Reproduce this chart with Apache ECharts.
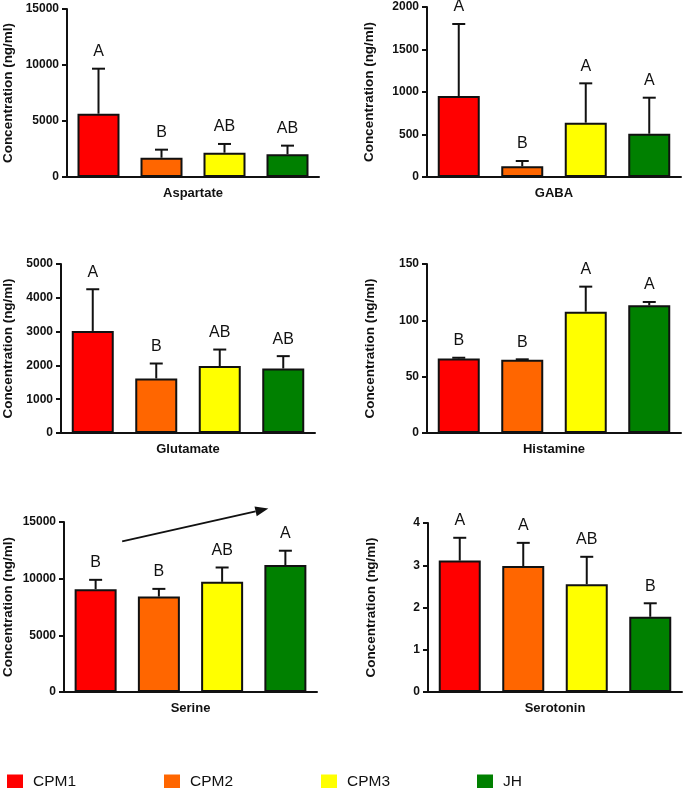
<!DOCTYPE html>
<html>
<head>
<meta charset="utf-8">
<script src="https://cdn.jsdelivr.net/npm/echarts@6/dist/echarts.min.js"></script>
<style>html,body{margin:0;padding:0;background:#fff}#c{width:685px;height:788px}</style>
</head>
<body>
<div id="c"></div>
<script>
// ---- data ----
const groups = ['CPM1', 'CPM2', 'CPM3', 'JH'];
const groupColors = ['#FF0000', '#FF6600', '#FFFF00', '#008000'];

const aspartateMean = [5650, 1720, 2170, 2030];
const aspartateSd = [4020, 720, 780, 770];
const aspartateLetters = ['A', 'B', 'AB', 'AB'];

const gabaMean = [953, 126, 639, 509];
const gabaSd = [847, 62, 463, 424];
const gabaLetters = ['A', 'B', 'A', 'A'];

const glutamateMean = [3020, 1613, 1979, 1908];
const glutamateSd = [1233, 443, 490, 366];
const glutamateLetters = ['A', 'B', 'AB', 'AB'];

const histamineMean = [66.2, 65.1, 107.7, 113.3];
const histamineSd = [0.6, 0.3, 22.2, 3.0];
const histamineLetters = ['B', 'B', 'A', 'A'];

const serineMean = [9072, 8417, 9719, 11199];
const serineSd = [825, 682, 1267, 1267];
const serineLetters = ['B', 'B', 'AB', 'A'];
const serineArrow = [[0.42, 13290], [2.73, 16190]];

const serotoninMean = [3.11, 2.98, 2.55, 1.78];
const serotoninSd = [0.54, 0.55, 0.65, 0.32];
const serotoninLetters = ['A', 'A', 'AB', 'B'];

const yAxisTitle = 'Concentration (ng/ml)';

const panels = [
  {name: 'Aspartate', mean: aspartateMean, sd: aspartateSd, letters: aspartateLetters, max: 15000, interval: 5000},
  {name: 'GABA', mean: gabaMean, sd: gabaSd, letters: gabaLetters, max: 2000, interval: 500},
  {name: 'Glutamate', mean: glutamateMean, sd: glutamateSd, letters: glutamateLetters, max: 5000, interval: 1000},
  {name: 'Histamine', mean: histamineMean, sd: histamineSd, letters: histamineLetters, max: 150, interval: 50},
  {name: 'Serine', mean: serineMean, sd: serineSd, letters: serineLetters, max: 15000, interval: 5000},
  {name: 'Serotonin', mean: serotoninMean, sd: serotoninSd, letters: serotoninLetters, max: 4, interval: 1}
];

// ---- layout ----
const gridBoxes = [
  {left: 66, top: 9, width: 253, height: 168},
  {left: 427, top: 7, width: 254, height: 170},
  {left: 60, top: 264, width: 255, height: 169},
  {left: 427, top: 264, width: 254, height: 169},
  {left: 63, top: 522, width: 254, height: 170},
  {left: 428, top: 523, width: 254, height: 169}
];
const yNameGaps = [52, 51, 46, 50, 49, 50];
const legendLefts = [7, 164, 321, 477];
const SERINE = 4;

const FONT = '"Liberation Sans", Arial, Helvetica, sans-serif';
const INK = '#111';

const chart = echarts.init(document.getElementById('c'), null, {renderer: 'canvas'});

const grid = [], xAxis = [], yAxis = [], series = [];

panels.forEach((p, k) => {
  grid.push(Object.assign({containLabel: false}, gridBoxes[k]));
  xAxis.push({
    type: 'category', gridIndex: k, data: groups,
    name: p.name, nameLocation: 'middle', nameGap: 10,
    nameTextStyle: {fontFamily: FONT, fontWeight: 'bold', fontSize: 13, color: INK, verticalAlign: 'top'},
    axisLine: {onZero: false, lineStyle: {color: INK, width: 2}},
    axisTick: {show: false}, axisLabel: {show: false}, splitLine: {show: false}
  });
  yAxis.push({
    type: 'value', gridIndex: k, min: 0, max: p.max, interval: p.interval,
    name: yAxisTitle, nameLocation: 'middle', nameGap: yNameGaps[k],
    nameTextStyle: {fontFamily: FONT, fontWeight: 'bold', fontSize: 13.5, color: INK},
    axisLine: {show: true, onZero: false, lineStyle: {color: INK, width: 2}},
    axisTick: {show: true, length: 5, lineStyle: {color: INK, width: 2}},
    axisLabel: {fontFamily: FONT, fontWeight: 'bold', fontSize: 12, color: INK, margin: 8,
                formatter: v => String(v)},
    splitLine: {show: false}
  });
  groups.forEach((g, gi) => {
    series.push({
      type: 'bar', name: g, xAxisIndex: k, yAxisIndex: k,
      data: p.mean.map((v, i) => (i === gi ? v : '-')),
      barWidth: 42, barGap: '-100%',
      itemStyle: {color: groupColors[gi], borderColor: INK, borderWidth: 2},
      emphasis: {disabled: true}, animation: false, z: 2
    });
  });
  const letters = p.letters;
  series.push({
    type: 'custom', name: p.name + ' SD', xAxisIndex: k, yAxisIndex: k,
    data: p.mean.map((m, i) => [i, m, m + p.sd[i]]),
    encode: {x: 0, y: [1, 2]},
    z: 3, animation: false, silent: true,
    renderItem: function (params, api) {
      const i = api.value(0);
      const p0 = api.coord([i, api.value(1)]);
      const p1 = api.coord([i, api.value(2)]);
      const hw = 6.5;
      return {
        type: 'group',
        children: [
          {type: 'line', shape: {x1: p0[0], y1: p0[1], x2: p1[0], y2: p1[1]}, style: {stroke: INK, lineWidth: 2}},
          {type: 'line', shape: {x1: p1[0] - hw, y1: p1[1], x2: p1[0] + hw, y2: p1[1]}, style: {stroke: INK, lineWidth: 2}},
          {type: 'text', x: p1[0], y: p1[1] - 9,
           style: {text: letters[i], fill: INK, font: '16px ' + FONT, textAlign: 'center', textVerticalAlign: 'bottom'}}
        ]
      };
    }
  });
});

// hidden value x-axis on the Serine grid, used to place the trend arrow
xAxis.push({type: 'value', gridIndex: SERINE, min: -0.5, max: 3.5, show: false,
            axisLine: {show: false, onZero: false}, axisTick: {show: false}, axisLabel: {show: false}, splitLine: {show: false}});
const arrowXIndex = xAxis.length - 1;

const legend = groups.map((g, gi) => ({
  data: [g], left: legendLefts[gi], top: 774, padding: 0,
  icon: 'rect', itemWidth: 16, itemHeight: 15, selectedMode: false,
  itemStyle: {borderWidth: 0},
  textStyle: {fontFamily: FONT, fontSize: 15.5, color: INK, padding: [0, 0, 0, 5]}
}));

chart.setOption({
  animation: false,
  backgroundColor: '#fff',
  grid: grid, xAxis: xAxis, yAxis: yAxis, series: series, legend: legend
});

// trend arrow: positions from the axes' own scales
const finder = {xAxisIndex: arrowXIndex, yAxisIndex: SERINE};
const a = chart.convertToPixel(finder, serineArrow[0]);
const b = chart.convertToPixel(finder, serineArrow[1]);
const ang = Math.atan2(b[1] - a[1], b[0] - a[0]);
const headLen = 13, headHalf = 5;
const ux = Math.cos(ang), uy = Math.sin(ang);
const base = [b[0] - ux * headLen, b[1] - uy * headLen];
chart.setOption({
  graphic: [
    {type: 'line', shape: {x1: a[0], y1: a[1], x2: base[0], y2: base[1]}, style: {stroke: INK, lineWidth: 2}, silent: true},
    {type: 'polygon', shape: {points: [
      [b[0], b[1]],
      [base[0] - uy * headHalf, base[1] + ux * headHalf],
      [base[0] + uy * headHalf, base[1] - ux * headHalf]
    ]}, style: {fill: INK}, silent: true}
  ]
});
</script>
</body>
</html>
